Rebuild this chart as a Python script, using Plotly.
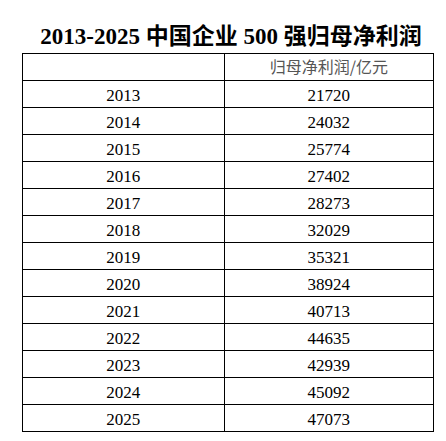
import plotly.graph_objects as go

years = [str(y) for y in range(2013, 2026)]
profits = [21720, 24032, 25774, 27402, 28273, 32029, 35321, 38924,
           40713, 44635, 42939, 45092, 47073]
header = ["", "归母净利润/亿元"]
title = "2013-2025 中国企业 500 强归母净利润"

W, H = 446, 441
font_family = "Liberation Serif, Noto Sans CJK SC, serif"

fig = go.Figure(
    go.Table(
        columnwidth=[206, 212],
        header=dict(
            values=header,
            height=27,
            align="center",
            fill_color="white",
            line=dict(color="black", width=1),
            font=dict(family="Noto Sans CJK SC", size=16, color="#555555"),
        ),
        cells=dict(
            values=[years, profits],
            height=27,
            align="center",
            fill_color="white",
            line=dict(color="black", width=1),
            font=dict(family=font_family, size=17, color="black"),
        ),
        domain=dict(x=[14 / W, 425 / W], y=[0, 1 - 45 / H]),
    )
)

fig.update_layout(
    width=W,
    height=H,
    margin=dict(l=0, r=0, t=0, b=0),
    paper_bgcolor="white",
    title=dict(
        text="<b>" + title + "</b>",
        x=0.5,
        xanchor="center",
        y=1 - 28 / H,
        yanchor="middle",
        font=dict(family=font_family, size=23, color="black"),
    ),
)

fig.write_html("out.html")
